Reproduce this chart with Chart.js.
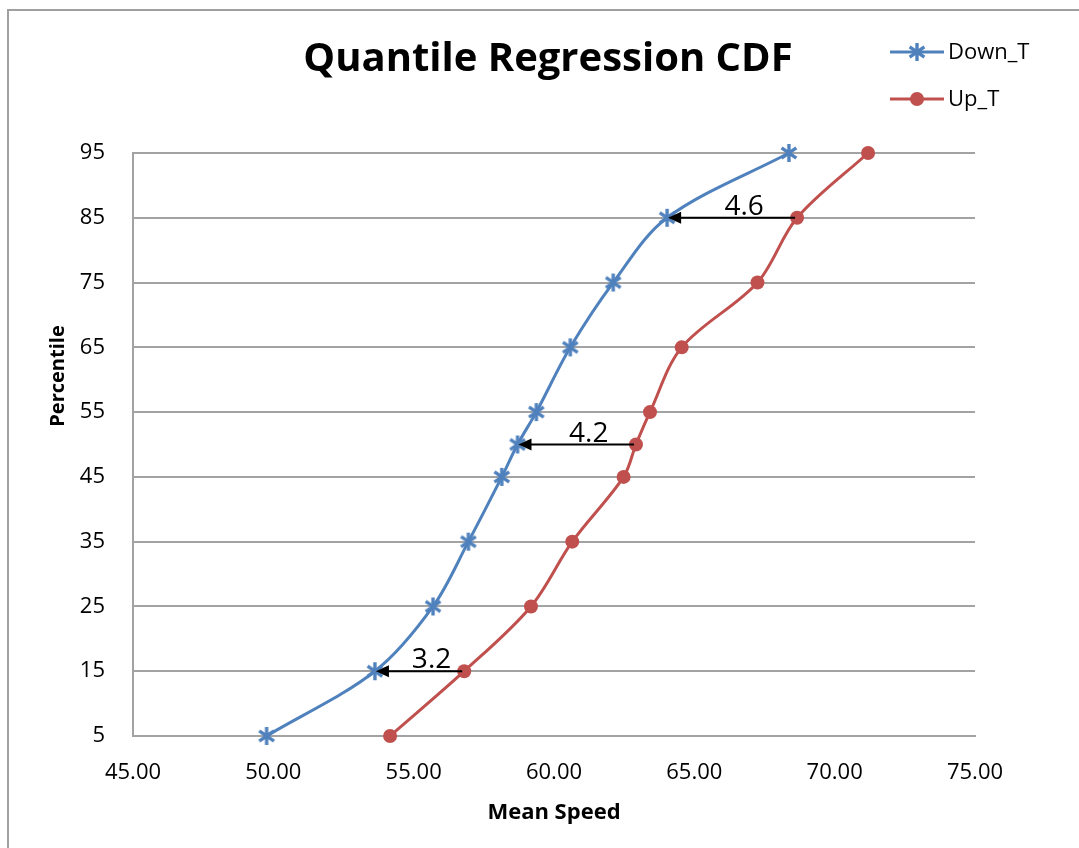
<!DOCTYPE html>
<html lang="en">
<head>
  <meta charset="UTF-8">
  <title>Quantile Regression CDF</title>
  <script src="https://cdn.jsdelivr.net/npm/chart.js"></script>
  <style>
    body {
      margin: 0;
      padding: 0;
      background: #fff;
    }
    .chart-box {
      position: relative;
      width: 1079px;
      height: 848px;
    }
  </style>
</head>
<body>
  <div class="chart-box">
    <canvas id="cdfChart"></canvas>
  </div>

  <script>
    // values
    const percentiles = [5, 15, 25, 35, 45, 50, 55, 65, 75, 85, 95];
    const downT = [49.76, 53.62, 55.69, 56.95, 58.14, 58.70, 59.37, 60.58, 62.11, 64.03, 68.37];
    const upT = [54.16, 56.80, 59.18, 60.65, 62.48, 62.92, 63.42, 64.55, 67.25, 68.66, 71.19];

    const xTicks = [45, 50, 55, 60, 65, 70, 75];
    const yTicks = [5, 15, 25, 35, 45, 55, 65, 75, 85, 95];

    // gaps marked with arrows (percentile, label)
    const gapPercentiles = [15, 50, 85];
    const gapLabels = ['3.2', '4.2', '4.6'];

    const BLUE = '#4f81bd';
    const RED = '#c0504d';
    const GRID = '#a3a3a3';
    const FONT = "'Open Sans', 'DejaVu Sans', sans-serif";

    // excel-like asterisk marker (vertical bar + X)
    function makeStar(color) {
      const c = document.createElement('canvas');
      c.width = 22;
      c.height = 22;
      const g = c.getContext('2d');
      g.strokeStyle = color;
      g.lineWidth = 3.4;
      g.lineCap = 'butt';
      const r = 9;
      [90, 35, -35].forEach(a => {
        const rad = a * Math.PI / 180;
        g.beginPath();
        g.moveTo(11 - r * Math.cos(rad), 11 - r * Math.sin(rad));
        g.lineTo(11 + r * Math.cos(rad), 11 + r * Math.sin(rad));
        g.stroke();
      });
      return c;
    }
    const starMarker = makeStar(BLUE);

    const toPoints = (xs) => xs.map((x, i) => ({ x: x, y: percentiles[i] }));

    const extras = {
      id: 'extras',
      beforeDraw(chart) {
        const ctx = chart.ctx;
        ctx.save();
        ctx.fillStyle = '#fff';
        ctx.fillRect(0, 0, chart.width, chart.height);
        // outer chart frame (runs off the right and bottom edge)
        ctx.strokeStyle = '#a0a0a0';
        ctx.lineWidth = 2;
        ctx.strokeRect(8, 10, chart.width + 20, chart.height + 20);
        ctx.restore();
      },
      afterDraw(chart) {
        const ctx = chart.ctx;
        const xs = chart.scales.x;
        const ys = chart.scales.y;
        const area = chart.chartArea;
        ctx.save();

        // title
        ctx.fillStyle = '#000';
        ctx.textAlign = 'center';
        ctx.textBaseline = 'alphabetic';
        ctx.font = 'bold 40px ' + FONT;
        ctx.fillText('Quantile Regression CDF', 548, 71);

        // axis titles
        ctx.font = 'bold 22px ' + FONT;
        ctx.fillText('Mean Speed', (area.left + area.right) / 2, 819);
        ctx.save();
        ctx.translate(58, 376);
        ctx.rotate(-Math.PI / 2);
        ctx.textBaseline = 'middle';
        ctx.font = 'bold 20px ' + FONT;
        ctx.fillText('Percentile', 0, 0);
        ctx.restore();

        // legend
        const items = [
          { label: 'Down_T', color: BLUE, y: 52, star: true },
          { label: 'Up_T', color: RED, y: 99, star: false }
        ];
        items.forEach(it => {
          ctx.strokeStyle = it.color;
          ctx.lineWidth = 3;
          ctx.beginPath();
          ctx.moveTo(890, it.y);
          ctx.lineTo(944, it.y);
          ctx.stroke();
          if (it.star) {
            ctx.drawImage(starMarker, 917 - 11, it.y - 11);
          } else {
            ctx.fillStyle = it.color;
            ctx.beginPath();
            ctx.arc(917, it.y, 7, 0, Math.PI * 2);
            ctx.fill();
          }
          ctx.fillStyle = '#000';
          ctx.textAlign = 'left';
          ctx.textBaseline = 'middle';
          ctx.font = '22px ' + FONT;
          ctx.fillText(it.label, 948, it.y + 1);
        });

        // gap arrows from Up_T to Down_T
        gapPercentiles.forEach((p, k) => {
          const i = percentiles.indexOf(p);
          const x0 = xs.getPixelForValue(upT[i]);
          const x1 = xs.getPixelForValue(downT[i]);
          const y = ys.getPixelForValue(p);
          ctx.strokeStyle = '#000';
          ctx.fillStyle = '#000';
          ctx.lineWidth = 2;
          ctx.beginPath();
          ctx.moveTo(x0 - 2, y);
          ctx.lineTo(x1 + 10, y);
          ctx.stroke();
          ctx.beginPath();
          ctx.moveTo(x1 + 1, y);
          ctx.lineTo(x1 + 14, y - 6);
          ctx.lineTo(x1 + 14, y + 6);
          ctx.closePath();
          ctx.fill();
          ctx.textAlign = 'center';
          ctx.textBaseline = 'alphabetic';
          ctx.font = '28px ' + FONT;
          ctx.fillText(gapLabels[k], (x0 + x1) / 2 + 12, y - 3);
        });

        ctx.restore();
      }
    };

    const ctx = document.getElementById('cdfChart').getContext('2d');
    new Chart(ctx, {
      type: 'scatter',
      data: {
        datasets: [
          {
            label: 'Down_T',
            data: toPoints(downT),
            showLine: true,
            borderColor: BLUE,
            backgroundColor: BLUE,
            borderWidth: 3,
            pointStyle: starMarker,
            pointRadius: 9,
            tension: 0.33,
            clip: false
          },
          {
            label: 'Up_T',
            data: toPoints(upT),
            showLine: true,
            borderColor: RED,
            backgroundColor: RED,
            borderWidth: 3,
            pointStyle: 'circle',
            pointRadius: 7,
            pointBorderWidth: 0,
            tension: 0.33,
            clip: false
          }
        ]
      },
      options: {
        responsive: true,
        maintainAspectRatio: false,
        animation: false,
        layout: {
          padding: { top: 153, right: 104, left: 0, bottom: 0 }
        },
        plugins: {
          legend: { display: false },
          tooltip: { enabled: false }
        },
        scales: {
          x: {
            type: 'linear',
            min: xTicks[0],
            max: xTicks[xTicks.length - 1],
            afterBuildTicks: (s) => { s.ticks = xTicks.map(v => ({ value: v })); },
            afterFit: (s) => { s.height = 112; },
            grid: { display: false, drawTicks: false },
            border: { display: true, color: GRID, width: 2 },
            ticks: {
              padding: 24,
              color: '#000',
              font: { family: FONT, size: 22 },
              callback: (v) => Number(v).toFixed(2)
            }
          },
          y: {
            type: 'linear',
            min: yTicks[0],
            max: yTicks[yTicks.length - 1],
            afterBuildTicks: (s) => { s.ticks = yTicks.map(v => ({ value: v })); },
            afterFit: (s) => { s.width = 133; },
            grid: { color: GRID, lineWidth: 2, drawTicks: false },
            border: { display: true, color: GRID, width: 2 },
            ticks: {
              padding: 28,
              color: '#000',
              font: { family: FONT, size: 22 }
            }
          }
        }
      },
      plugins: [extras]
    });
  </script>
</body>
</html>
